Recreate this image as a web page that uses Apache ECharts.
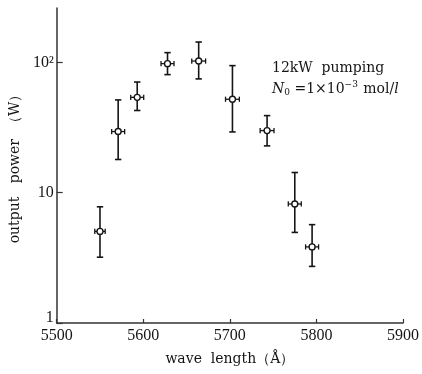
<!DOCTYPE html>
<html>
<head>
<meta charset="utf-8">
<script src="https://cdn.jsdelivr.net/npm/echarts@6/dist/echarts.min.js"></script>
<style>
html,body{margin:0;padding:0;background:#fff;}
#chart{width:422px;height:374px;}
</style>
</head>
<body>
<div id="chart"></div>
<script>
// Data
const wavelengths = [5550, 5571, 5593, 5628, 5664, 5703, 5743, 5775, 5795];
const power       = [5.05, 29.5, 54, 98, 102.6, 52.2, 30, 8.2, 3.84];
const powerHigh   = [7.8, 51.6, 70.8, 119, 143.6, 94.6, 39.1, 14.3, 5.69];
const powerLow    = [3.2, 18, 42.8, 80.7, 74.8, 29.3, 22.9, 4.96, 2.72];
const waveErr     = [6, 7.5, 7.5, 7.5, 8, 8, 8, 7.5, 7.5];
const xTicks = [5500, 5600, 5700, 5800, 5900];
const yTickLabels = {1: '1', 10: '10', 100: '10²'};

const data = wavelengths.map((w, i) => [w, power[i], w - waveErr[i], w + waveErr[i], powerLow[i], powerHigh[i]]);

const INK = '#151515';
const serif = '"Liberation Serif", "DejaVu Serif", serif';
const dserif = '"DejaVu Serif", "Liberation Serif", serif';

const chart = echarts.init(document.getElementById('chart'));
chart.setOption({
  animation: false,
  backgroundColor: '#fff',
  grid: {left: 56, right: 17, top: 8, bottom: 51},
  xAxis: {
    type: 'value', min: xTicks[0], max: xTicks[xTicks.length - 1], interval: 100,
    splitLine: {show: false},
    axisLine: {lineStyle: {color: '#333', width: 1.5}},
    axisTick: {inside: true, length: 4, lineStyle: {color: '#333', width: 1.2}},
    axisLabel: {color: INK, fontFamily: serif, fontSize: 16, margin: 5,
      formatter: function (v) { return String(Math.round(v)); }},
    name: 'wave  length（Å）', nameLocation: 'middle', nameGap: 29,
    nameTextStyle: {color: INK, fontFamily: dserif, fontSize: 14}
  },
  yAxis: {
    type: 'log', logBase: 10, min: 1, max: 262,
    splitLine: {show: false},
    minorTick: {show: false},
    axisLine: {lineStyle: {color: '#333', width: 1.5}},
    axisTick: {inside: true, length: 6, lineStyle: {color: '#333', width: 1.2}},
    axisLabel: {
      color: INK, fontFamily: serif, fontSize: 16, margin: 3, showMaxLabel: false,
      formatter: function (v) {
        const r = Math.round(v);
        if (Math.abs(v - r) < 1e-6 && yTickLabels[r]) {
          return r === 1 ? '{lo|1}' : yTickLabels[r];
        }
        return '';
      },
      rich: {lo: {fontFamily: serif, fontSize: 16, color: INK, padding: [0, 0, 10, 0]}}
    },
    name: 'output   power  （W）', nameLocation: 'middle', nameGap: 33,
    nameTextStyle: {color: INK, fontFamily: dserif, fontSize: 14}
  },
  graphic: [
    {type: 'text', left: 272, top: 61, style: {text: '12kW  pumping', font: '14px "DejaVu Serif"', fill: INK}},
    {type: 'text', left: 272, top: 80, style: {
      text: '{i|N}{s|0} =1×10{p|−3} mol/{i|l}',
      font: '14px "DejaVu Serif"', fill: INK,
      rich: {
        i: {fontFamily: 'DejaVu Serif', fontStyle: 'italic', fontSize: 14, color: INK},
        s: {fontFamily: 'DejaVu Serif', fontSize: 9, color: INK, padding: [7, 0, 0, 0]},
        p: {fontFamily: 'DejaVu Serif', fontSize: 9, color: INK, padding: [0, 1, 9, 0]}
      }
    }}
  ],
  series: [{
    type: 'custom',
    data: data,
    encode: {x: 0, y: 1},
    renderItem: function (params, api) {
      const c = api.coord([api.value(0), api.value(1)]);
      const xl = api.coord([api.value(2), api.value(1)]);
      const xh = api.coord([api.value(3), api.value(1)]);
      const yl = api.coord([api.value(0), api.value(4)]);
      const yh = api.coord([api.value(0), api.value(5)]);
      const st = {stroke: INK, lineWidth: 1.6, fill: null};
      const cw = 3.2, ch = 2.6;
      return {
        type: 'group',
        children: [
          {type: 'line', shape: {x1: c[0], y1: yl[1], x2: c[0], y2: yh[1]}, style: st},
          {type: 'line', shape: {x1: c[0] - cw, y1: yl[1], x2: c[0] + cw, y2: yl[1]}, style: st},
          {type: 'line', shape: {x1: c[0] - cw, y1: yh[1], x2: c[0] + cw, y2: yh[1]}, style: st},
          {type: 'line', shape: {x1: xl[0], y1: c[1], x2: xh[0], y2: c[1]}, style: {stroke: INK, lineWidth: 1.3}},
          {type: 'line', shape: {x1: xl[0], y1: c[1] - ch, x2: xl[0], y2: c[1] + ch}, style: {stroke: INK, lineWidth: 1.3}},
          {type: 'line', shape: {x1: xh[0], y1: c[1] - ch, x2: xh[0], y2: c[1] + ch}, style: {stroke: INK, lineWidth: 1.3}},
          {type: 'circle', shape: {cx: c[0], cy: c[1], r: 3}, style: {fill: '#fff', stroke: INK, lineWidth: 1.4}}
        ]
      };
    }
  }]
});
</script>
</body>
</html>
